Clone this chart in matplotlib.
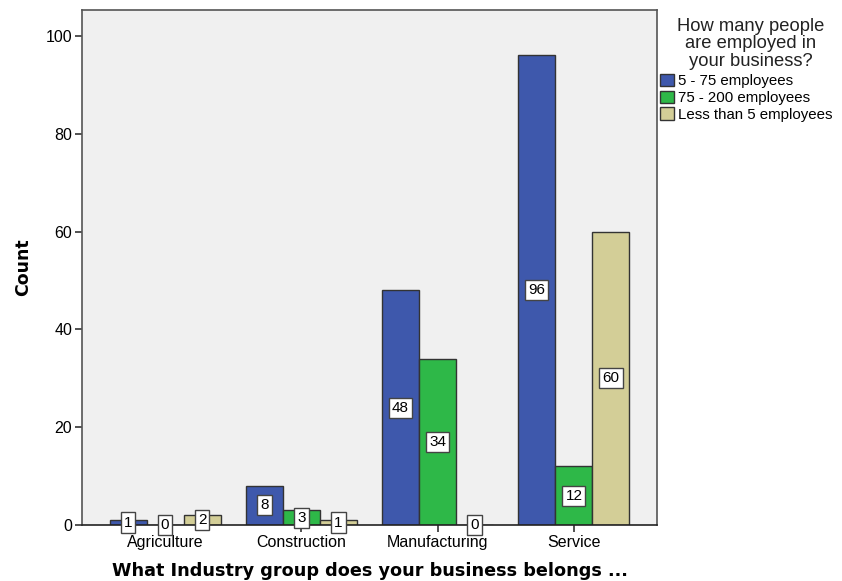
import matplotlib.pyplot as plt
import numpy as np

plt.rcParams['font.family'] = ['Liberation Sans', 'DejaVu Sans']

industries = ["Agriculture", "Construction", "Manufacturing", "Service"]
groups = ["5 - 75 employees", "75 - 200 employees", "Less than 5 employees"]
counts_5_75 = [1, 8, 48, 96]
counts_75_200 = [0, 3, 34, 12]
counts_lt5 = [2, 1, 0, 60]
colors = ["#3E58AC", "#2EB848", "#D3CE97"]

fig = plt.figure(figsize=(8.42, 5.81), dpi=100)
ax = fig.add_axes([82 / 842, 56 / 581, 575 / 842, 515 / 581])
ax.set_facecolor("#F0F0F0")

x = np.arange(len(industries))
w = 0.272
series = [counts_5_75, counts_75_200, counts_lt5]
for i, (vals, col, lab) in enumerate(zip(series, colors, groups)):
    xs = x + (i - 1) * w
    ax.bar(xs, vals, width=w, color=col, edgecolor="#333333", linewidth=1.0, label=lab, zorder=2)
    for xi, v in zip(xs, vals):
        ax.text(xi, v / 2, str(v), ha="center", va="center", fontsize=11, zorder=4,
                bbox=dict(boxstyle="square,pad=0.2", facecolor="white", edgecolor="#444444", linewidth=1.0))

ax.set_xlim(-0.61, 3.61)
ax.set_ylim(0, 105.3)
ax.set_yticks([0, 20, 40, 60, 80, 100])
ax.set_xticks(x)
ax.set_xticklabels(industries)
ax.tick_params(axis="both", labelsize=11.5, direction="out", length=5, width=1.2, color="#333333", pad=2)
for s in ax.spines.values():
    s.set_color("#555555")
    s.set_linewidth(1.2)
ax.spines["bottom"].set_color("#222222")

ax.set_ylabel("Count", fontsize=12.5, fontweight="bold", family="DejaVu Sans", labelpad=10)
ax.set_xlabel("What Industry group does your business belongs ...", fontsize=12.7,
              fontweight="bold", family="DejaVu Sans", labelpad=9)

fig.text(751 / 842, 1 - 18 / 581, "How many people\nare employed in\nyour business?",
         ha="center", va="top", fontsize=13.2, linespacing=1.03, color="#222222")
leg = fig.legend(loc="upper left", bbox_to_anchor=(660 / 842, 1 - 74 / 581),
                 fontsize=10.8, frameon=False,
                 handlelength=0.9, handleheight=0.9, handletextpad=0.3,
                 labelspacing=0.15, borderaxespad=0, borderpad=0)
for p in leg.get_patches():
    p.set_edgecolor("#333333")

fig.savefig("out.png", dpi=100)
